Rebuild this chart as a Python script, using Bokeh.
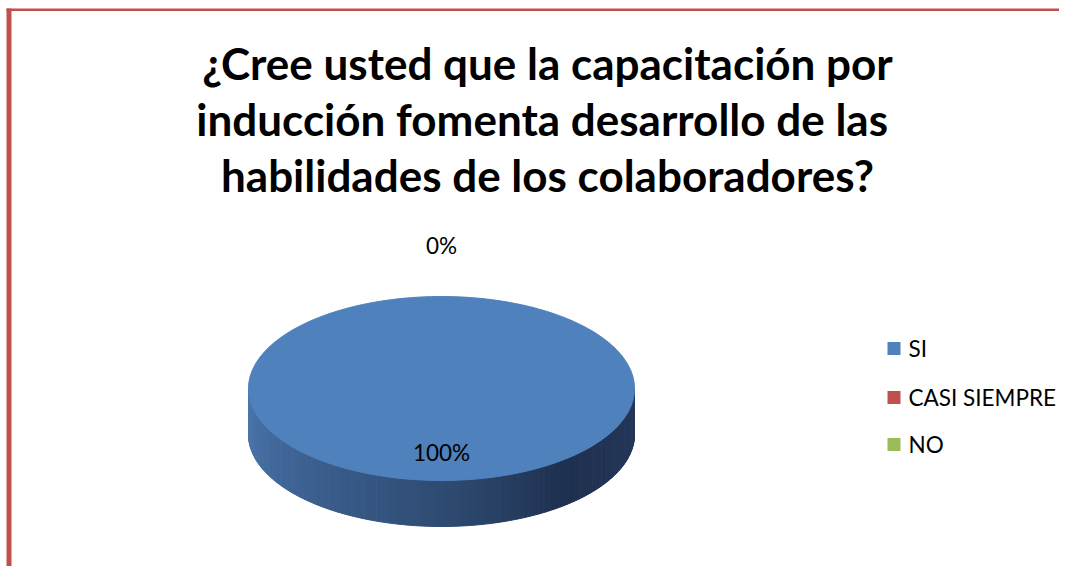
import numpy as np
from bokeh.plotting import figure
from bokeh.models import Range1d
from bokeh.core.properties import value
from bokeh.embed import file_html
from bokeh.resources import INLINE

# ---- data ----
categories = ["SI", "CASI SIEMPRE", "NO"]
values = [100, 0, 0]
colors = ["#4F81BD", "#C0504D", "#9BBB59"]
title_lines = ["¿Cree usted que la capacitación por",
               "inducción fomenta  desarrollo de las",
               "habilidades de los colaboradores?"]

W, H = 1059, 566
p = figure(width=W, height=H, output_backend="svg", toolbar_location=None,
           x_range=Range1d(0, W), y_range=Range1d(H, 0),
           min_border=0, outline_line_color=None, background_fill_color="white")
p.axis.visible = False
p.grid.visible = False

FONT = value("Lato")

# frame (red border top and left)
p.quad(left=[6], right=[W], top=[8], bottom=[10.5], fill_color="#C0504D", line_color=None)
p.quad(left=[6], right=[11], top=[8], bottom=[H], fill_color="#C0504D", line_color=None)

# title
for i, t in enumerate(title_lines):
    p.text(x=[547], y=[62 + i * 56], text=[t], text_font=FONT, text_font_style="bold",
           text_font_size="44px", text_align="center", text_baseline="alphabetic",
           text_color="black")

# pie geometry
cx, cy, rx, ry, depth = 441, 388, 193, 92, 46
total = float(sum(values))
fracs = [v / total for v in values]

# side (front half) with gradient
stops_x = np.array([0.0, 0.2, 0.52, 0.72, 1.0])
stops_c = np.array([[78, 122, 178], [64, 102, 152], [46, 74, 112], [31, 49, 80], [40, 58, 92]])
nstrip = 200
xs_all, ys_all, cols = [], [], []
for k in range(nstrip):
    a0 = np.pi - np.pi * k / nstrip
    a1 = np.pi - np.pi * (k + 1) / nstrip
    xa, xb = cx + rx * np.cos(a0), cx + rx * np.cos(a1)
    ya, yb = cy + ry * np.sin(a0), cy + ry * np.sin(a1)
    xs_all.append([xa, xb, xb, xa])
    ys_all.append([ya, yb, yb + depth, ya + depth])
    f = (k + 0.5) / nstrip
    c = [int(np.interp(f, stops_x, stops_c[:, j])) for j in range(3)]
    cols.append("#%02x%02x%02x" % tuple(c))
p.patches(xs_all, ys_all, fill_color=cols, line_color=cols, line_width=1)

# top face wedges (start at 12 o'clock, clockwise)
start = 0.0
label_x, label_y, label_t = [], [], []
seen = set()
for v, fr, col in zip(values, fracs, colors):
    end = start + fr * 2 * np.pi
    if fr > 0:
        t = np.linspace(start, end, 240)
        px = list(cx + rx * np.sin(t))
        py = list(cy - ry * np.cos(t))
        if fr < 1:
            px = [cx] + px
            py = [cy] + py
        p.patch(px, py, fill_color=col, line_color=col, line_width=1)
    mid = (start + end) / 2
    txt = "%d%%" % round(fr * 100)
    if fr > 0:
        lx, ly = cx + 0.7 * rx * np.sin(mid), cy - 0.7 * ry * np.cos(mid)
    else:
        lx, ly = cx + 1.55 * rx * np.sin(mid), cy - 1.55 * ry * np.cos(mid)
    key = (round(lx), round(ly))
    if key not in seen:
        seen.add(key)
        label_x.append(lx); label_y.append(ly); label_t.append(txt)
    start = end

p.text(x=label_x, y=label_y, text=label_t, text_font=FONT, text_font_size="22.5px",
       text_align="center", text_baseline="middle", text_color="black")

# legend
leg_y = [348, 397, 444]
p.quad(left=[887] * 3, right=[900] * 3, top=[y - 6.5 for y in leg_y],
       bottom=[y + 6.5 for y in leg_y], fill_color=colors, line_color=None)
p.text(x=[908] * 3, y=leg_y, text=categories, text_font=FONT, text_font_size="22.5px",
       text_align="left", text_baseline="middle", text_color="black")

open("out.html", "w").write(file_html(p, INLINE))
